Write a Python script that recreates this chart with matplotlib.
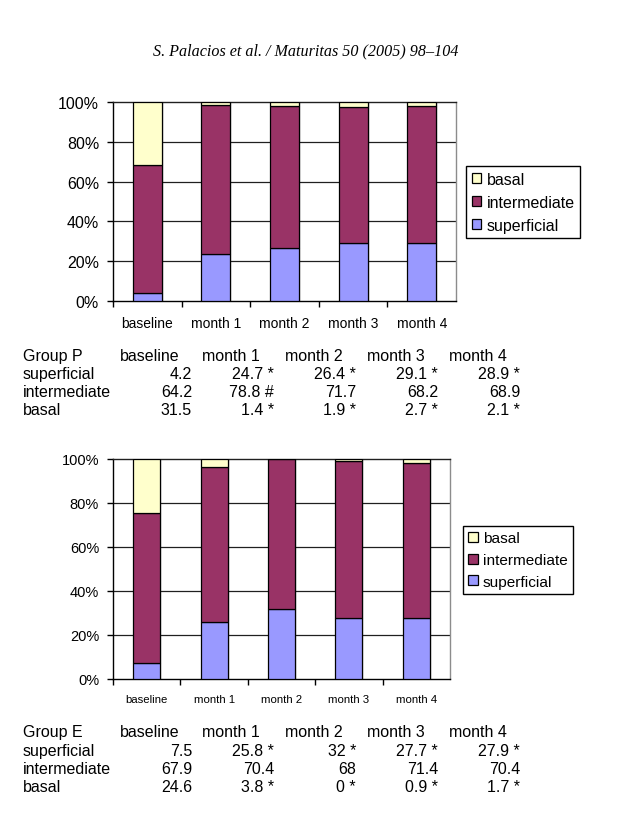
import matplotlib
matplotlib.use("Agg")
import matplotlib.pyplot as plt
from matplotlib.patches import Patch
from matplotlib.ticker import FixedLocator, PercentFormatter

plt.rcParams["font.family"] = ["Liberation Sans", "DejaVu Sans"]

W, H = 627, 820

months = ["baseline", "month 1", "month 2", "month 3", "month 4"]
series_names = ["superficial", "intermediate", "basal"]
colors = {"superficial": "#9999FF", "intermediate": "#993366", "basal": "#FFFFCC"}

# Group P
p_superficial = [4.2, 24.7, 26.4, 29.1, 28.9]
p_intermediate = [64.2, 78.8, 71.7, 68.2, 68.9]
p_basal = [31.5, 1.4, 1.9, 2.7, 2.1]
p_marks = {
    "superficial": ["", "*", "*", "*", "*"],
    "intermediate": ["", "#", "", "", ""],
    "basal": ["", "*", "*", "*", "*"],
}

# Group E
e_superficial = [7.5, 25.8, 32, 27.7, 27.9]
e_intermediate = [67.9, 70.4, 68, 71.4, 70.4]
e_basal = [24.6, 3.8, 0, 0.9, 1.7]
e_marks = {
    "superficial": ["", "*", "*", "*", "*"],
    "intermediate": ["", "", "", "", ""],
    "basal": ["", "*", "*", "*", "*"],
}


def fx(x):
    return x / W


def fy(y):
    return 1 - y / H


def stacked_chart(ax, sup, inter, bas, width, xfs, yfs):
    n = len(months)
    xs = list(range(n))
    totals = [a + b + c for a, b, c in zip(sup, inter, bas)]
    sup_p = [v / t * 100 for v, t in zip(sup, totals)]
    int_p = [v / t * 100 for v, t in zip(inter, totals)]
    bas_p = [v / t * 100 for v, t in zip(bas, totals)]
    for i in xs:
        ax.axvline(i + width / 2, color="#8c8c8c", lw=1, zorder=1)
    for v in [20, 40, 60, 80]:
        ax.axhline(v, color="#202020", lw=0.9, zorder=1)
    kw = dict(width=width, edgecolor="black", linewidth=0.9, zorder=3)
    ax.bar(xs, sup_p, color=colors["superficial"], **kw)
    ax.bar(xs, int_p, bottom=sup_p, color=colors["intermediate"], **kw)
    bottoms = [a + b for a, b in zip(sup_p, int_p)]
    ax.bar(xs, bas_p, bottom=bottoms, color=colors["basal"], **kw)
    ax.set_xlim(-0.5, n - 0.5)
    ax.set_ylim(0, 100)
    ax.set_xticks(xs)
    ax.set_xticklabels(months, fontsize=xfs)
    ax.xaxis.set_minor_locator(FixedLocator([i - 0.5 for i in range(n)]))
    ax.tick_params(axis="x", which="major", length=0, pad=11)
    ax.tick_params(axis="x", which="minor", length=4, width=1, direction="out")
    ax.set_yticks([0, 20, 40, 60, 80, 100])
    ax.yaxis.set_major_formatter(PercentFormatter(decimals=0))
    ax.tick_params(axis="y", length=4, width=1, pad=6, labelsize=yfs)
    ax.spines["left"].set_color("black")
    ax.spines["bottom"].set_color("black")
    ax.spines["top"].set_color("#202020")
    ax.spines["right"].set_color("#8c8c8c")
    for s in ax.spines.values():
        s.set_linewidth(1)


def add_legend(fig, left, top, fs):
    handles = [Patch(facecolor=colors[k], edgecolor="black", linewidth=0.9)
               for k in ["basal", "intermediate", "superficial"]]
    leg = fig.legend(handles, ["basal", "intermediate", "superficial"],
                     loc="upper left", bbox_to_anchor=(fx(left), fy(top)),
                     bbox_transform=fig.transFigure, borderaxespad=0,
                     fontsize=fs, frameon=True, fancybox=False, framealpha=1,
                     edgecolor="black", handlelength=0.6, handleheight=0.6,
                     handletextpad=0.35, labelspacing=0.5, borderpad=0.35)
    leg.get_frame().set_linewidth(1)


def add_table(fig, group, sup, inter, bas, marks, y0, dy):
    fs = 11.5
    col_left = [120, 202, 285, 367, 449]
    col_right = [192, 274, 356, 438, 520]
    fig.text(fx(23), fy(y0), group, fontsize=fs, va="center", ha="left")
    for m, xl in zip(months, col_left):
        fig.text(fx(xl), fy(y0), m, fontsize=fs, va="center", ha="left")
    rows = [("superficial", sup), ("intermediate", inter), ("basal", bas)]
    for r, (name, vals) in enumerate(rows):
        y = y0 + dy * (r + 1)
        fig.text(fx(23), fy(y), name, fontsize=fs, va="center", ha="left")
        for v, mk, xr in zip(vals, marks[name], col_right):
            s = f"{v:g}" + (" " + mk if mk else "")
            fig.text(fx(xr), fy(y), s, fontsize=fs, va="center", ha="right")


fig = plt.figure(figsize=(W / 100, H / 100), dpi=100)

fig.text(fx(306), fy(51), "S. Palacios et al. / Maturitas 50 (2005) 98\u2013104",
         fontsize=11.6, style="italic", family=["Liberation Serif", "DejaVu Serif"],
         ha="center", va="center")

ax1 = fig.add_axes([fx(113), fy(302), (456 - 113) / W, (302 - 103) / H])
stacked_chart(ax1, p_superficial, p_intermediate, p_basal, 0.42, 10, 11.5)
add_legend(fig, 466, 167, 11.5)
add_table(fig, "Group P", p_superficial, p_intermediate, p_basal, p_marks, 357, 18)

ax2 = fig.add_axes([fx(113), fy(680), (450 - 113) / W, (680 - 460) / H])
stacked_chart(ax2, e_superficial, e_intermediate, e_basal, 0.4, 8.2, 10.5)
add_legend(fig, 463, 527, 11.1)
add_table(fig, "Group E", e_superficial, e_intermediate, e_basal, e_marks, 733, 18.3)

fig.savefig("out.png", dpi=100)
